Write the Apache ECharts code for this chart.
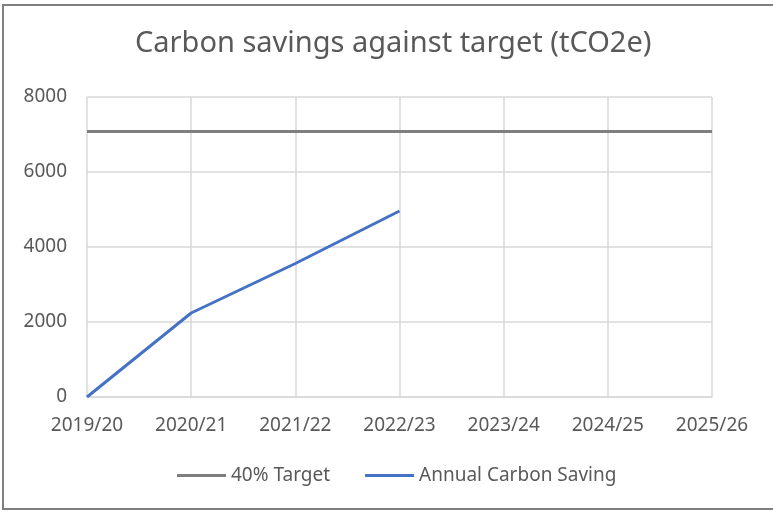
<!DOCTYPE html>
<html><head><meta charset="utf-8">
<script src="https://cdn.jsdelivr.net/npm/echarts@6/dist/echarts.min.js"></script>
<style>html,body{margin:0;padding:0;background:#fff}#c{width:773px;height:512px}</style>
</head><body><div id="c"></div>
<script>
var categories = ['2019/20','2020/21','2021/22','2022/23','2023/24','2024/25','2025/26'];
var targetValues = [7080,7080,7080,7080,7080,7080,7080];
var savingValues = [0,2240,3560,4960,null,null,null];
var yTicks = {min:0, max:8000, interval:2000};
var FONT = 'Noto Sans';
var chart = echarts.init(document.getElementById('c'));
chart.setOption({
  animation:false,
  backgroundColor:'#fff',
  textStyle:{fontFamily:FONT},
  title:{text:'Carbon savings against target (tCO2e)', left:135, top:29, padding:0,
    textStyle:{fontFamily:FONT, fontSize:29, fontWeight:'normal', color:'#595959'}},
  graphic:[{type:'rect', shape:{x:3,y:5,width:790,height:504}, style:{fill:'none', stroke:'#7f7f7f', lineWidth:2}, silent:true}],
  legend:{left:177, top:466, padding:0, itemWidth:49, itemHeight:3, itemGap:35, icon:'rect',
    textStyle:{fontFamily:FONT, fontSize:19, color:'#595959'},
    data:['40% Target','Annual Carbon Saving']},
  grid:{left:87, right:61, top:97, bottom:115, containLabel:false},
  xAxis:{type:'category', data:categories, boundaryGap:false,
    axisLine:{lineStyle:{color:'#d9d9d9', width:1.5}}, axisTick:{show:false},
    axisLabel:{fontFamily:FONT, fontSize:19, color:'#595959', margin:19},
    splitLine:{show:true, lineStyle:{color:'#d9d9d9', width:1.5}}},
  yAxis:{type:'value', min:yTicks.min, max:yTicks.max, interval:yTicks.interval,
    axisLine:{show:false}, axisTick:{show:false},
    axisLabel:{fontFamily:FONT, fontSize:19, color:'#595959', margin:20, formatter:function(v){return String(v);}},
    splitLine:{lineStyle:{color:'#d9d9d9', width:1.5}}},
  series:[
    {name:'40% Target', type:'line', data:targetValues, symbol:'none', lineStyle:{color:'#7f7f7f', width:3}, itemStyle:{color:'#7f7f7f'}},
    {name:'Annual Carbon Saving', type:'line', data:savingValues, symbol:'none', lineStyle:{color:'#4472c4', width:3}, itemStyle:{color:'#4472c4'}}
  ]
});
</script></body></html>
